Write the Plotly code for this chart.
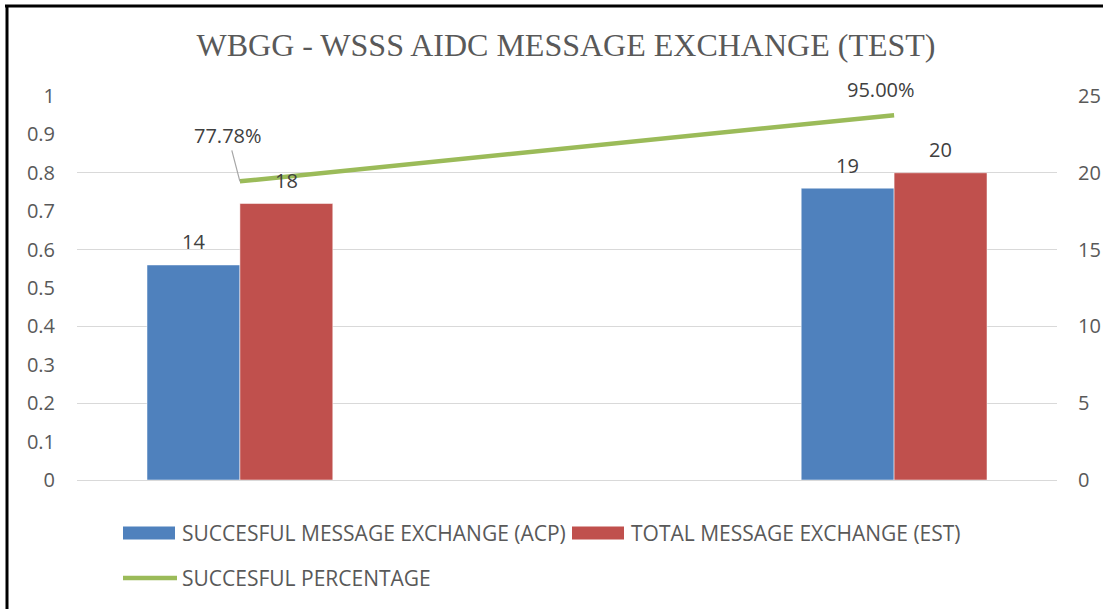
import plotly.graph_objects as go

# data
acp = [14, 19]          # succesful message exchange
est = [18, 20]          # total message exchange
pct = [0.7778, 0.95]    # succesful percentage
x = list(range(len(acp)))

W, H = 1109, 609
L, R, T, B = 77, 52, 96, 129


def px(p):
    return (p - L) / (W - L - R)


def py(p):
    return (H - B - p) / (H - T - B)


blue = "#4F81BD"
red = "#C0504D"
green = "#9BBB59"
txt = "#595959"
lbl = "#404040"
bw = 0.142

fig = go.Figure()
fig.add_trace(go.Bar(x=x, y=acp, name="SUCCESFUL MESSAGE EXCHANGE (ACP)",
                     marker=dict(color=blue, line=dict(color="white", width=0.5)),
                     width=bw, offset=-bw, yaxis="y2"))
fig.add_trace(go.Bar(x=x, y=est, name="TOTAL MESSAGE EXCHANGE (EST)",
                     marker=dict(color=red, line=dict(color="white", width=0.5)),
                     width=bw, offset=0, yaxis="y2"))
fig.add_trace(go.Scatter(x=x, y=pct, name="SUCCESFUL PERCENTAGE", mode="lines",
                         line=dict(color=green, width=4.5), yaxis="y"))

ann = []
for xi, v in zip(x, acp):
    ann.append(dict(x=xi - bw / 2, y=v, yref="y2", text=str(v), showarrow=False,
                    yshift=23, font=dict(size=20, color=lbl)))
for xi, v in zip(x, est):
    ann.append(dict(x=xi + bw / 2, y=v, yref="y2", text=str(v), showarrow=False,
                    yshift=23, font=dict(size=20, color=lbl)))
# percentage labels
ann.append(dict(x=x[0], y=pct[0], yref="y", text=f"{pct[0]:.2%}", showarrow=True,
                arrowhead=0, arrowwidth=1.2, arrowcolor="#a6a6a6", ax=-12, ay=-46,
                standoff=0, font=dict(size=20, color=lbl)))
ann.append(dict(x=x[1], y=pct[1], yref="y", text=f"{pct[1]:.2%}", showarrow=False,
                xshift=-13, yshift=26, font=dict(size=20, color=lbl)))

# legend drawn by hand to get wide Excel-style swatches
legend_items = [
    ("rect", blue, 123, 175, 533, "SUCCESFUL MESSAGE EXCHANGE (ACP)", 180),
    ("rect", red, 572, 624, 533, "TOTAL MESSAGE EXCHANGE (EST)", 629),
    ("line", green, 123, 177, 578, "SUCCESFUL PERCENTAGE", 180),
]
shapes = []
for kind, col, x0, x1, yc, label, tx in legend_items:
    if kind == "rect":
        shapes.append(dict(type="rect", xref="paper", yref="paper",
                           x0=px(x0), x1=px(x1), y0=py(yc + 6.5), y1=py(yc - 6.5),
                           fillcolor=col, line=dict(width=0)))
    else:
        shapes.append(dict(type="line", xref="paper", yref="paper",
                           x0=px(x0), x1=px(x1), y0=py(yc), y1=py(yc),
                           line=dict(color=col, width=4.5)))
    ann.append(dict(x=px(tx), y=py(yc), xref="paper", yref="paper", text=label,
                    showarrow=False, xanchor="left", yanchor="middle",
                    font=dict(size=21, color=txt)))

# outer frame (top and left edges visible)
shapes.append(dict(type="line", xref="paper", yref="paper", x0=px(5), x1=px(1103),
                   y0=py(6), y1=py(6), line=dict(color="black", width=3)))
shapes.append(dict(type="line", xref="paper", yref="paper", x0=px(7), x1=px(7),
                   y0=py(5), y1=py(612), line=dict(color="black", width=3)))

fig.update_layout(
    width=W, height=H,
    margin=dict(l=L, r=R, t=T, b=B, autoexpand=False),
    paper_bgcolor="white", plot_bgcolor="white",
    barmode="overlay",
    showlegend=False,
    title=dict(text="WBGG - WSSS AIDC MESSAGE EXCHANGE (TEST)",
               x=566 / W, xanchor="center", y=1 - 45 / H, yanchor="middle",
               font=dict(family="Liberation Serif", size=32, color=txt)),
    font=dict(family="Open Sans", size=20, color=txt),
    xaxis=dict(range=[-0.249, 1.249], showticklabels=False, showgrid=False,
               zeroline=False, ticks="", automargin=False),
    yaxis=dict(range=[0, 1], dtick=0.1, showgrid=False, zeroline=False,
               ticks="", ticklabelstandoff=21, automargin=False),
    yaxis2=dict(range=[0, 25], dtick=5, overlaying="y", side="right",
                showgrid=True, gridcolor="#d9d9d9", gridwidth=1.3,
                zeroline=True, zerolinecolor="#d9d9d9", zerolinewidth=1.3,
                ticks="", ticklabelstandoff=20, automargin=False),
    annotations=ann,
    shapes=shapes,
)

# drop the browser's default 8px body margin so the figure sits at (0, 0)
fig.write_html("out.html", config={"displayModeBar": False},
               post_script="document.body.style.margin='0';document.body.style.overflow='hidden';")
